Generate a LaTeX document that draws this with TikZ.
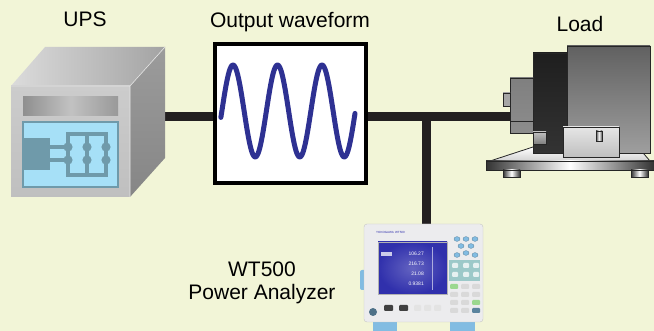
\documentclass[tikz,border=0pt]{standalone}
\usepackage{fontspec}
\setmainfont{Liberation Sans}
\usepackage{xcolor}
\usetikzlibrary{positioning, calc}

\definecolor{bgcream}{RGB}{242,245,215}
\definecolor{wireblack}{RGB}{35,31,32}
\definecolor{wavblue}{RGB}{46,49,146}
\definecolor{panelblue}{RGB}{166,224,247}
\definecolor{circblue}{RGB}{111,154,170}
\definecolor{scrblue}{RGB}{48,48,172}
\definecolor{keyblue}{RGB}{130,188,226}
\definecolor{keypanel}{RGB}{156,201,201}
\definecolor{keygreen}{RGB}{155,216,143}

\begin{document}
\begin{tikzpicture}[
  x=1pt, y=-1pt,
  every node/.style={font=\fontsize{21}{23}\selectfont, inner sep=0pt},
  wire/.style={line width=9pt, wireblack},
  part/.style={draw=black!85, line width=0.8pt},
  metal/.style={part, left color=black!80, right color=black!80, middle color=white},
  circ/.style={circblue, line width=4pt},
  key/.style={fill=keyblue, draw=keyblue!70!black, line width=0.3pt},
  scrtext/.style={font=\fontsize{5}{6}\selectfont, text=white, anchor=base east}
]
\useasboundingbox (0,0) rectangle (654,331);
\fill[bgcream] (0,0) rectangle (654,331);

% ---- Labels ----
\node[anchor=base] (upslabel) at (85,27) {UPS};
\node[anchor=base] (wavelabel) at (290,28) {Output waveform};
\node[anchor=base] (loadlabel) at (580,32) {Load};
\node[anchor=base] (wtname) at (262,277) {WT500};
\node[anchor=base] (wtdesc) at (262,300) {Power Analyzer};

% ---- Power line ----
\coordinate (upsout) at (165,116.5);
\coordinate (loadin) at (512,116.5);
\coordinate (tap) at (426,116.5);
\draw[wire] (upsout) -- (loadin);

% ---- UPS ----
\shade[left color=gray!28, right color=gray!72] (11,86) -- (45,47) -- (165,47) -- (130,86) -- cycle;
\shade[top color=gray!78, bottom color=gray!95] (130,86) -- (165,47) -- (165,158) -- (130,197) -- cycle;
\shade[top color=gray!40, bottom color=gray!50] (11,86) rectangle (130,197);
\draw[white!80!gray, line width=0.6pt] (11,86) -- (130,86) -- (165,47) (130,86) -- (130,197);
\shade[left color=gray!88, right color=gray!80, middle color=gray!48] (23,97) rectangle (118,116);
\draw[circblue, fill=panelblue, line width=1.5pt] (23,122) rectangle (118,187);
\fill[circblue] (24,138) rectangle (50,170);
\draw[circ] (50,147) -- (68,147) (50,160) -- (68,160);
\draw[circ] (68,134) rectangle (106,175) (87,134) -- (87,175);
\foreach \cx in {68,87,106}
  \foreach \cy in {147,160}
    \fill[circblue] (\cx,\cy) circle (4.6);

% ---- Output waveform ----
\node[draw=black, line width=4pt, fill=white, minimum width=151pt, minimum height=139pt] (wave) at (290.5,113.5) {};
\draw[wavblue, line width=5pt, line cap=round, line join=round]
  plot[domain=-8:1077, samples=160, variable=\t] ({233+(\t-90)/360*44.5}, {111-46*sin(\t)});

% ---- Load ----
\shade[part, top color=white, bottom color=gray!35] (533,147) -- (638,147) -- (650,161) -- (490,161) -- cycle;
\shade[metal] (486,161) rectangle (654,170);
\shade[metal] (503,170) rectangle (520,177);
\shade[metal] (631,170) rectangle (648,177);
\shade[part, top color=black!62, middle color=black!20, bottom color=black!38] (567,46) rectangle (650,153);
\shade[part, top color=black!88, middle color=black!45, bottom color=black!80] (533,53) rectangle (567,153);
\shade[part, top color=black!50, middle color=black!15, bottom color=black!45] (510,78) rectangle (533,133);
\draw[part] (510,121) -- (533,121);
\shade[part, top color=black!35, middle color=white, bottom color=black!35] (503,93) rectangle (510,106);
\shade[part, top color=black!25, bottom color=black!50] (533,132) rectangle (546,144);
\shade[part, top color=black!10, bottom color=black!25] (563,127) rectangle (619,157);
\shade[part, left color=black!70, right color=black!70, middle color=white, line width=0.5pt] (596,131) rectangle (602,141);

% ---- WT500 ----
\draw[wire] (tap) -- (426,226);
\fill[keyblue] (373,318) rectangle (397,331);
\fill[keyblue] (450,318) rectangle (475,331);
\fill[keyblue, rounded corners=2pt] (360,270) rectangle (366,290);
\node[draw=gray!45, fill=blue!4!gray!14, rounded corners=3pt, minimum width=119pt, minimum height=98pt] (wt) at (423.5,273) {};
\node[font=\fontsize{3}{4}\selectfont, text=scrblue, anchor=base west] (brand) at (376,234) {YOKOGAWA\, WT500};
\shade[inner color=white!25!scrblue, outer color=scrblue, draw=gray!60, line width=0.6pt] (378,242) rectangle (447,294);
\draw[white!60!scrblue, line width=0.4pt] (432,247) -- (432,290);
\fill[white!75!scrblue] (381,252) rectangle (392,256);
\node[scrtext] (v1) at (424,256) {106.27};
\node[scrtext] (v2) at (424,266) {216.73};
\node[scrtext] (v3) at (424,276) {21.08};
\node[scrtext] (v4) at (424,286) {0.9381};
\foreach \bx/\by in {457/239, 466/239, 475/239, 461/246, 471/246, 466/253, 457/255, 475/255}
  \draw[key] (\bx,\by) ellipse (3pt and 2.4pt);
\fill[keypanel] (449,260) rectangle (480,281);
\foreach \bx in {452,463,473}
  \foreach \by in {263,272}
    \fill[white!75!keypanel, rounded corners=1pt] (\bx,\by) rectangle ++(6,5);
\fill[keygreen, rounded corners=1pt] (450,284) rectangle ++(8,5);
\fill[keygreen, rounded corners=1pt] (472,300) rectangle ++(8,5);
\foreach \bx/\by in {461/284, 472/284, 450/292, 461/292, 472/292, 450/300, 461/300, 450/308, 461/308}
  \fill[gray!30, rounded corners=1pt] (\bx,\by) rectangle ++(8,5);
\fill[keyblue!70!black, rounded corners=1pt] (472,308) rectangle ++(8,5);
\fill[keyblue!60!black] (373,312) circle (4);
\fill[black!75, rounded corners=1pt] (384,305) rectangle (393,311);
\fill[black!75, rounded corners=1pt] (399,305) rectangle (408,311);
\foreach \bx in {414,424,434}
  \fill[gray!22, rounded corners=1pt] (\bx,305) rectangle ++(7,6);
\end{tikzpicture}
\end{document}
